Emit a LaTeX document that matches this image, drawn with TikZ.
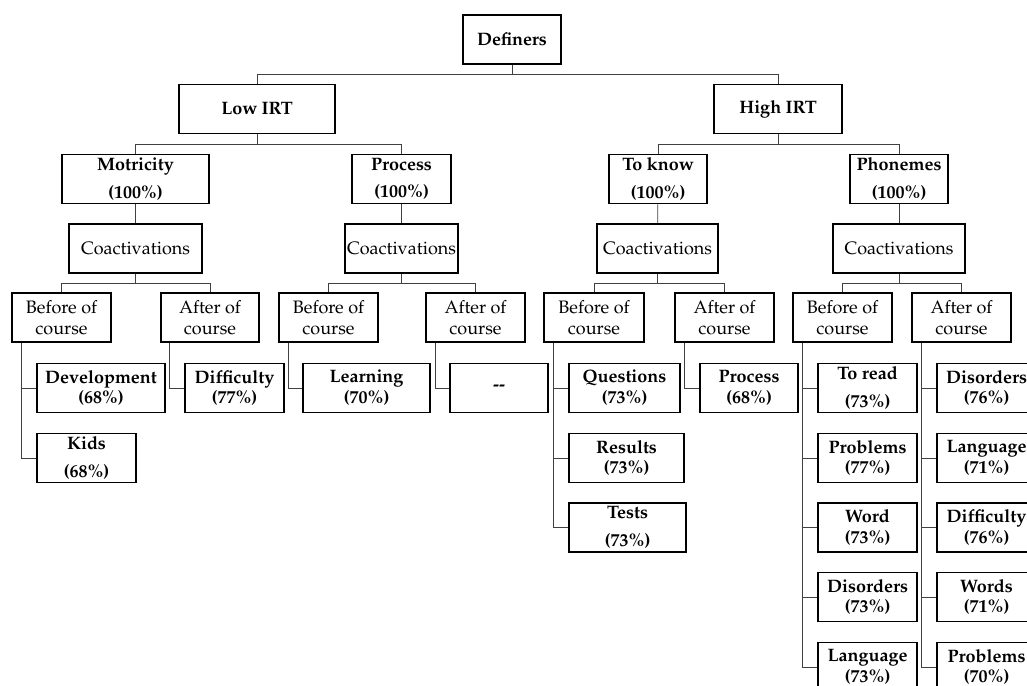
\documentclass[tikz,border=0pt]{standalone}
\usepackage[T1]{fontenc}
\usepackage{mathpazo}
\tikzset{
  box/.style={draw, line width=1pt, inner sep=0pt, minimum height=12.3mm, align=center, font=\fontsize{12.8}{14.8}\selectfont},
  wd/.style={minimum width=#1*0.25mm},
  hd/.style={font=\fontsize{12.8}{14.8}\selectfont\bfseries},
  link/.style={draw=black!75, line width=0.6pt}
}
\begin{document}
\begin{tikzpicture}[x=0.25mm, y=-0.25mm]
      \useasboundingbox (0,0) rectangle (1027,686);
      \draw
        (512,39.5) node[box, hd, wd=98] (def){Definers}
        (257,109) node[box, hd, wd=156] (low){Low IRT}
        (778,109) node[box, hd, wd=128] (high){High IRT}
        (135.5,179) node[box, hd, wd=147] (mot){Motricity\\[5pt](100\%)}
        (401.5,179) node[box, hd, wd=99] (proc){Process\\[5pt](100\%)}
        (658,179) node[box, hd, wd=98] (know){To know\\[5pt](100\%)}
        (899,179) node[box, hd, wd=98] (phon){Phonemes\\[5pt](100\%)}
        (135.5,248.5) node[box, wd=133] (coA){Coactivations}
        (401.5,248.5) node[box, wd=113] (coB){Coactivations}
        (657.5,248.5) node[box, wd=121] (coC){Coactivations}
        (899,248.5) node[box, wd=132] (coD){Coactivations}
        (61.5,317.5) node[box, wd=99] (befA){Before of\\course}
        (210,317.5) node[box, wd=98] (aftA){After of\\course}
        (328.5,317.5) node[box, wd=99] (befB){Before of\\course}
        (475.5,317.5) node[box, wd=99] (aftB){After of\\course}
        (594,317.5) node[box, wd=100] (befC){Before of\\course}
        (724.5,317.5) node[box, wd=99] (aftC){After of\\course}
        (842.5,317.5) node[box, wd=99] (befD){Before of\\course}
        (961.5,317.5) node[box, wd=99] (aftD){After of\\course}
        (101,388) node[box, hd, wd=128] (dev){Development\\(68\%)}
        (86.5,458) node[box, hd, wd=99] (kids){Kids\\[5pt](68\%)}
        (234.5,388) node[box, hd, wd=99] (diffA){Difficulty\\(77\%)}
        (366.5,388) node[box, hd, wd=127] (learn){Learning\\(70\%)}
        (499,388) node[box, hd, wd=98] (none){{-}{-}}
        (624.5,388) node[box, hd, wd=111] (quest){Questions\\(73\%)}
        (626.5,458) node[box, hd, wd=115] (res){Results\\(73\%)}
        (627.5,527.5) node[box, hd, wd=117] (tests){Tests\\[5pt](73\%)}
        (749,388) node[box, hd, wd=98] (procB){Process\\(68\%)}
        (867.5,388) node[box, hd, wd=99] (read){To read\\[5pt](73\%)}
        (867.5,458) node[box, hd, wd=99] (probA){Problems\\(77\%)}
        (867.5,527.5) node[box, hd, wd=99] (word){Word\\(73\%)}
        (867.5,597) node[box, hd, wd=99] (disA){Disorders\\(73\%)}
        (867.5,667) node[box, hd, wd=99] (langA){Language\\(73\%)}
        (986.5,388) node[box, hd, wd=99] (disB){Disorders\\(76\%)}
        (986.5,458) node[box, hd, wd=99] (langB){Language\\(71\%)}
        (986.5,527.5) node[box, hd, wd=99] (diffB){Difficulty\\(76\%)}
        (986.5,597) node[box, hd, wd=99] (words){Words\\(71\%)}
        (986.5,667) node[box, hd, wd=99] (probB){Problems\\(70\%)};
      \begin{scope}[link]
        \draw (def.south) -- ++(0,10) -| (low.north);
        \draw (def.south) -- ++(0,10) -| (high.north);
        \draw (low.south) -- ++(0,10) -| (mot.north);
        \draw (low.south) -- ++(0,10) -| (proc.north);
        \draw (high.south) -- ++(0,10) -| (know.north);
        \draw (high.south) -- ++(0,10) -| (phon.north);
        \draw (mot) -- (coA);
        \draw (proc) -- (coB);
        \draw (know) -- (coC);
        \draw (phon) -- (coD);
        \draw (coA.south) -- ++(0,10) -| (befA.north);
        \draw (coA.south) -- ++(0,10) -| (aftA.north);
        \draw (coB.south) -- ++(0,10) -| (befB.north);
        \draw (coB.south) -- ++(0,10) -| (aftB.north);
        \draw (coC.south) -- ++(0,10) -| (befC.north);
        \draw (coC.south) -- ++(0,10) -| (aftC.north);
        \draw (coD.south) -- ++(0,10) -| (befD.north);
        \draw (coD.south) -- ++(0,10) -| (aftD.north);
        \draw ([xshift=2.5mm]befA.south west) |- (dev.west);
        \draw ([xshift=2.5mm]befA.south west) |- (kids.west);
        \draw ([xshift=2.25mm]aftA.south west) |- (diffA.west);
        \draw ([xshift=2.5mm]befB.south west) |- (learn.west);
        \draw ([xshift=2.5mm]aftB.south west) |- (none.west);
        \draw ([xshift=2.5mm]befC.south west) |- (quest.west);
        \draw ([xshift=2.5mm]befC.south west) |- (res.west);
        \draw ([xshift=2.5mm]befC.south west) |- (tests.west);
        \draw ([xshift=2.5mm]aftC.south west) |- (procB.west);
        \draw ([xshift=2.5mm]befD.south west) |- (read.west);
        \draw ([xshift=2.5mm]befD.south west) |- (probA.west);
        \draw ([xshift=2.5mm]befD.south west) |- (word.west);
        \draw ([xshift=2.5mm]befD.south west) |- (disA.west);
        \draw ([xshift=2.5mm]befD.south west) |- (langA.west);
        \draw ([xshift=2.5mm]aftD.south west) |- (disB.west);
        \draw ([xshift=2.5mm]aftD.south west) |- (langB.west);
        \draw ([xshift=2.5mm]aftD.south west) |- (diffB.west);
        \draw ([xshift=2.5mm]aftD.south west) |- (words.west);
        \draw ([xshift=2.5mm]aftD.south west) |- (probB.west);
      \end{scope}
    \end{tikzpicture}
\end{document}
